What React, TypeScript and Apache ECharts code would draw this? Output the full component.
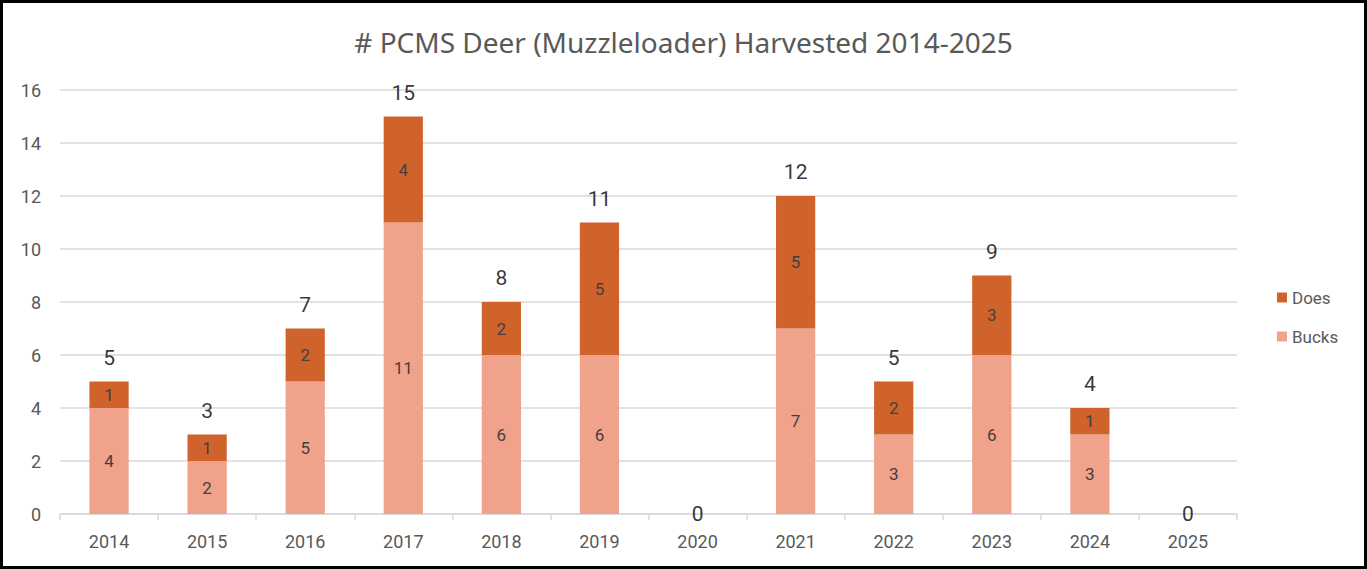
import React, { useEffect, useRef } from "react";
import * as echarts from "echarts";

const years = ["2014", "2015", "2016", "2017", "2018", "2019", "2020", "2021", "2022", "2023", "2024", "2025"];
const bucks = [4, 2, 5, 11, 6, 6, 0, 7, 3, 6, 3, 0];
const does = [1, 1, 2, 4, 2, 5, 0, 5, 2, 3, 1, 0];
const totals = years.map((_, i) => bucks[i] + does[i]);

const FONT = "Roboto, 'Noto Sans', sans-serif";

export default function App() {
  const ref = useRef<HTMLDivElement>(null);
  useEffect(() => {
    if (!ref.current) return;
    const chart = echarts.init(ref.current, null, { renderer: "svg" });
    const inside = {
      show: true,
      position: "inside",
      color: "#404040",
      fontSize: 17,
      fontFamily: FONT,
      formatter: (p: any) => (p.value === 0 ? "" : String(p.value)),
    };
    chart.setOption({
      animation: false,
      backgroundColor: "#ffffff",
      title: {
        text: "# PCMS Deer (Muzzleloader) Harvested 2014-2025",
        left: "center",
        top: 23,
        textStyle: { color: "#595959", fontSize: 28, fontWeight: "normal", fontFamily: "'Noto Sans', Roboto, sans-serif" },
      },
      legend: {
        orient: "vertical",
        left: 1272,
        top: 284,
        itemWidth: 10,
        itemHeight: 10,
        itemGap: 22,
        icon: "rect",
        data: ["Does", "Bucks"],
        textStyle: { color: "#595959", fontSize: 17, fontFamily: FONT },
      },
      grid: { left: 60, right: 130, top: 90, bottom: 55, containLabel: false },
      xAxis: {
        type: "category",
        data: years,
        axisLine: { lineStyle: { color: "#D9D9D9", width: 1.5 } },
        axisTick: { show: true, length: 6, lineStyle: { color: "#D9D9D9", width: 1.5 } },
        axisLabel: { color: "#595959", fontSize: 18, fontFamily: FONT, margin: 18 },
      },
      yAxis: {
        type: "value",
        min: 0,
        max: 16,
        interval: 2,
        axisLine: { show: false },
        axisTick: { show: false },
        splitLine: { lineStyle: { color: "#D9D9D9", width: 1.5 } },
        axisLabel: { color: "#595959", fontSize: 18, fontFamily: FONT, margin: 19 },
      },
      series: [
        {
          name: "Bucks",
          type: "bar",
          stack: "deer",
          barWidth: "40%",
          data: bucks,
          itemStyle: { color: "#F0A28A" },
          label: inside,
        },
        {
          name: "Does",
          type: "bar",
          stack: "deer",
          barWidth: "40%",
          data: does,
          itemStyle: { color: "#D0632B" },
          label: inside,
        },
        {
          name: "Total",
          type: "scatter",
          symbolSize: 1,
          itemStyle: { color: "rgba(0,0,0,0)" },
          data: totals.map((v) => ({
            value: v,
            label: v === 0 ? { position: "inside" } : { position: "top" },
          })),
          label: {
            show: true,
            position: "top",
            distance: 13,
            color: "#000000",
            fontSize: 21,
            fontFamily: FONT,
          },
          z: 5,
        },
      ],
    });
    return () => chart.dispose();
  }, []);
  return (
    <div style={{ position: "fixed", left: 0, top: 0, width: 1367, height: 569, background: "#fff" }}>
      <div ref={ref} style={{ position: "absolute", left: 0, top: 0, width: 1367, height: 569 }} />
      <div
        style={{
          position: "absolute",
          left: 0,
          top: 0,
          width: 1367,
          height: 569,
          boxSizing: "border-box",
          border: "3px solid #000",
          pointerEvents: "none",
        }}
      />
    </div>
  );
}
